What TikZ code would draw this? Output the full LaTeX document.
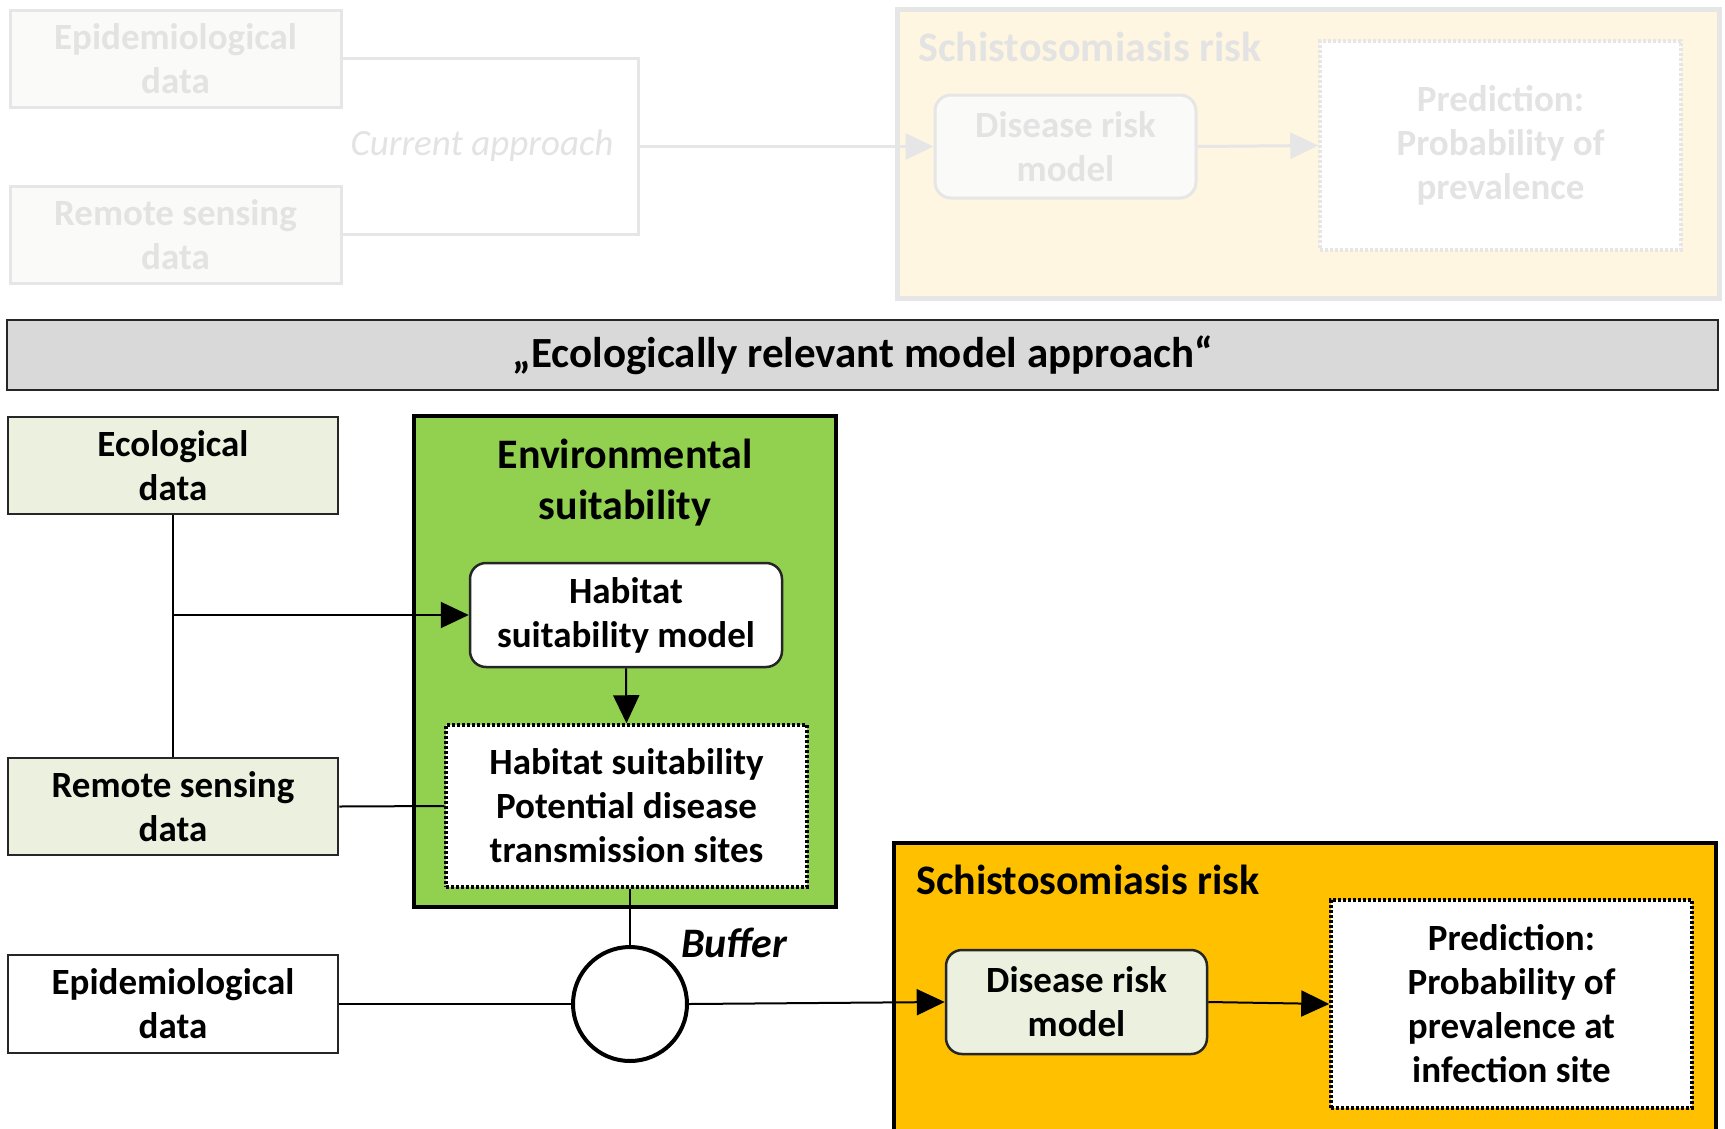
\documentclass[tikz,border=0pt]{standalone}
\usepackage{fontspec}
\setmainfont{Carlito}
\usetikzlibrary{arrows.meta,shapes.geometric}
\definecolor{envgreen}{HTML}{92D050}
\definecolor{riskorange}{HTML}{FFC000}
\definecolor{palegreen}{HTML}{EBF1DE}
\definecolor{bannergray}{HTML}{D9D9D9}
\definecolor{fadetext}{HTML}{E3E3E3}
\definecolor{fadeline}{HTML}{E6E6E6}
\definecolor{fadefill}{HTML}{FAFAF8}
\definecolor{fadeyellow}{HTML}{FFF6E1}
\tikzset{
  x=1pt, y=-1pt,
  txt/.style={font=\fontsize{37}{44}\selectfont\bfseries, align=center, inner sep=0pt},
  ttl/.style={font=\fontsize{42}{50}\selectfont\bfseries, align=center, inner sep=0pt},
  databox/.style={txt, draw=black!85, line width=2.5pt, minimum width=330pt, minimum height=97pt},
  roundbox/.style={databox, rounded corners=16pt},
  dotbox/.style={txt, draw=black, fill=white, line width=3.5pt, dash pattern=on 3pt off 2pt},
  conn/.style={line width=2pt, draw=black},
  arr/.style={conn, -{Triangle[length=28pt,width=26pt]}},
  fadebox/.style={txt, text=fadetext, draw=fadeline, fill=fadefill, line width=3pt},
  fconn/.style={line width=3pt, draw=fadeline},
  farr/.style={fconn, -{Triangle[length=28pt,width=26pt]}},
}
\begin{document}
\begin{tikzpicture}
\useasboundingbox (0,0) rectangle (1725,1128);
\fill[white] (0,0) rectangle (1725,1128);

% ---------- faded top: current approach ----------
\node[fadebox, minimum width=331pt, minimum height=97pt] (epiTop) at (175.5,58.5) {Epidemiological\\data};
\node[fadebox, minimum width=331pt, minimum height=97pt] (rsTop) at (175.5,234.5) {Remote sensing\\data};
\node[draw=fadeline, fill=fadeyellow, line width=5pt, minimum width=822pt, minimum height=289pt, inner sep=0pt] (yelTop) at (1308,153.5) {};
\node[ttl, text=fadetext, anchor=west] (schTop) at (918,47) {Schistosomiasis risk};
\node[fadebox, rounded corners=16pt, minimum width=261pt, minimum height=103pt] (drmTop) at (1065.5,146.5) {Disease risk\\model};
\node[txt, text=fadetext, draw=fadeline, fill=white, line width=3.5pt, dash pattern=on 3pt off 2pt, minimum width=361pt, minimum height=209pt] (predTop) at (1500.5,145.5) {Prediction:\\Probability of\\prevalence};
\coordinate (jTop) at (638,146.5);
\draw[fconn] (epiTop.east) -| (jTop);
\draw[fconn] (rsTop.east) -| (jTop);
\draw[farr] (jTop) -- (drmTop.west);
\draw[farr] (drmTop.east) -- (predTop.west);
\node[font=\fontsize{37}{44}\selectfont\itshape, text=fadetext, fill=white, inner sep=2pt] (curr) at (482,146) {Current approach};

% ---------- banner ----------
\node[txt, fill=bannergray, draw=black!85, line width=2.5pt, minimum width=1711pt, minimum height=70pt, font=\fontsize{43}{50}\selectfont\bfseries] (banner) at (862.5,355) {„Ecologically relevant model approach“};

% ---------- environmental suitability ----------
\node[draw=black, fill=envgreen, line width=4.5pt, minimum width=422pt, minimum height=491pt, inner sep=0pt] (green) at (625,661.5) {};
\node[ttl, font=\fontsize{42}{51}\selectfont\bfseries] (envTitle) at (625,483) {Environmental\\suitability};
\node[roundbox, fill=white, minimum width=312pt, minimum height=104pt] (hsm) at (626,615) {Habitat\\suitability model};
\node[dotbox, minimum width=361pt, minimum height=162pt] (hsd) at (626.5,806) {Habitat suitability\\Potential disease\\transmission sites};

\node[databox, fill=palegreen] (eco) at (173,465.5) {Ecological\\data};
\node[databox, fill=palegreen] (rs) at (173,806.5) {Remote sensing\\data};
\node[databox, fill=white, minimum height=98pt] (epi) at (173,1004) {Epidemiological\\data};

\draw[conn] (eco.south) -- (rs.north);
\draw[arr] (eco.south |- hsm.west) -- (hsm.west);
\draw[conn] (rs.east) -- (hsd.west);
\draw[arr] (hsm.south) -- (hsd.north);

% ---------- buffer ----------
\node[circle, draw=black, line width=4pt, fill=white, minimum size=114pt, inner sep=0pt] (buf) at (630,1004) {};
\draw[conn] (buf.north) -- (buf.north |- hsd.south);
\node[font=\fontsize{42}{50}\selectfont\bfseries\itshape, inner sep=0pt] (buflabel) at (734,943) {Buffer};
\draw[conn] (epi.east) -- (buf.west);

% ---------- schistosomiasis risk ----------
\node[draw=black, fill=riskorange, line width=4.5pt, minimum width=822pt, minimum height=310pt, inner sep=0pt] (orange) at (1305,998) {};
\node[ttl, anchor=west] (schTitle) at (916,880) {Schistosomiasis risk};
\node[roundbox, fill=palegreen, minimum width=261pt, minimum height=104pt] (drm) at (1076.5,1002) {Disease risk\\model};
\node[dotbox, minimum width=361pt, minimum height=208pt] (pred) at (1511.5,1004) {Prediction:\\Probability of\\prevalence at\\infection site};
\draw[arr] (buf.east) -- (drm.west);
\draw[arr] (drm.east) -- (pred.west);
\end{tikzpicture}
\end{document}
